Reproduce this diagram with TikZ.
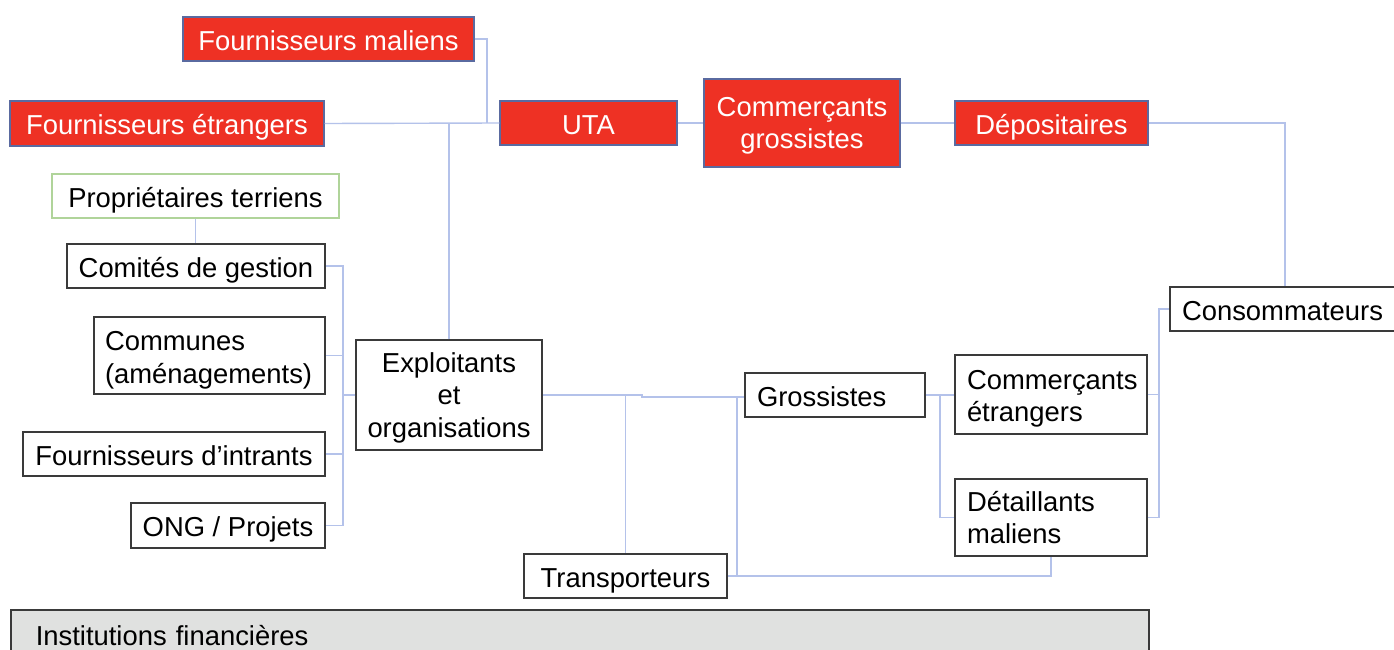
\documentclass[tikz,border=0pt]{standalone}
\usepackage{fontspec}
\setmainfont{Liberation Sans}
\definecolor{redfill}{HTML}{EE3124}
\definecolor{redline}{HTML}{5A6AA0}
\definecolor{boxline}{HTML}{3A3A3A}
\definecolor{conn}{HTML}{B4C2EA}
\definecolor{greenline}{HTML}{B0D49A}
\definecolor{grayfill}{HTML}{E0E1E0}
\tikzset{
  base/.style={rectangle, inner sep=0pt, font=\fontsize{27.4}{32.5}\selectfont, align=center},
  one/.style={text height=22.5pt, text depth=0pt},
  multi/.style={text depth=0pt},
  redbox/.style={base, draw=redline, line width=1.4pt, fill=redfill, text=white},
  whitebox/.style={base, draw=boxline, line width=1.5pt, fill=white, text=black},
  greenbox/.style={base, draw=greenline, line width=1.4pt, fill=white, text=black},
  conline/.style={draw=conn, line width=1.4pt},
}
\begin{document}
\begin{tikzpicture}[x=1pt,y=-1pt]
\useasboundingbox (0,0) rectangle (1394,650);
\clip (0,0) rectangle (1394,650);
\fill[white] (0,0) rectangle (1394,650);

\coordinate (j1) at (487,123);
\coordinate (lb) at (343,0);
\coordinate (tb) at (737,0);
\coordinate (gb) at (940,0);
\coordinate (rb) at (1159,0);

% nodes
\node[redbox, one, minimum width=291, minimum height=44] (fm) at (328.5,39) {Fournisseurs maliens};
\node[redbox, one, minimum width=314, minimum height=45] (fe) at (167,123.5) {Fournisseurs étrangers};
\node[redbox, one, minimum width=177, minimum height=44] (uta) at (588.5,123) {UTA};
\node[redbox, multi, minimum width=196, minimum height=88] (cg) at (802,123) {Commerçants\\grossistes};
\node[redbox, one, minimum width=193, minimum height=44] (dep) at (1051.5,123) {Dépositaires};
\node[greenbox, one, minimum width=287, minimum height=44] (pt) at (195.5,196) {Propriétaires terriens};
\node[whitebox, one, minimum width=258, minimum height=44] (cdg) at (196,266) {Comités de gestion};
\node[whitebox, text depth=28.5pt, minimum height=77, text width=209, inner xsep=11pt, align=left] (comm) at (209.5,355.5) {Communes\\(aménagements)};
\node[whitebox, one, minimum width=302, minimum height=44] (fi) at (174,454) {Fournisseurs d’intrants};
\node[whitebox, one, minimum width=194, minimum height=45] (ong) at (228,525.5) {ONG / Projets};
\node[whitebox, multi, minimum width=186, minimum height=110] (exp) at (449,395) {Exploitants\\et\\organisations};
\node[whitebox, one, minimum width=203, minimum height=44] (tr) at (625.5,576) {Transporteurs};
\node[whitebox, one, minimum height=44, text width=156, inner xsep=12pt, align=left] (gr) at (835,395) {Grossistes};
\node[whitebox, text depth=30pt, minimum height=79, text width=168, inner xsep=12pt, align=left] (ce) at (1051,394.5) {Commerçants\\étrangers};
\node[whitebox, minimum height=77, text width=168, inner xsep=12pt, align=left] (dm) at (1051,517.5) {Détaillants\\maliens};
\node[whitebox, one, minimum height=44, text width=206, inner xsep=12pt, align=left] (cons) at (1285,309) {Consommateurs};
\node[whitebox, one, fill=grayfill, minimum height=48, text width=1088, inner xsep=25pt, align=left, anchor=north west] (inst) at (10,609) {Institutions financières};

% connectors
\draw[conline] (fm.east) -| (j1);
\draw[conline] (fe.east) -- (uta.west);
\draw[conline] (exp.north) -- (exp.north |- fe.east);
\draw[conline] (uta.east) -- (cg.west |- uta.east);
\draw[conline] (cg.east |- dep.west) -- (dep.west);
\draw[conline] (dep.east) -| (cons.north);
\draw[conline] (pt.south) -- (pt.south |- cdg.north);
\draw[conline] (cdg.east) -- (cdg.east -| lb) -- (ong.east -| lb) -- (ong.east);
\draw[conline] (comm.east) -- (comm.east -| lb);
\draw[conline] (fi.east) -- (fi.east -| lb);
\draw[conline] (exp.west) -- (exp.west -| lb);
\draw[conline] (exp.east) -- (642,395) -- (642,397) -- (gr.west |- 0,397);
\draw[conline] (tr.north |- exp.east) -- (tr.north);
\draw[conline] (tb |- 0,397) -- (tb |- tr.east);
\draw[conline] (tr.east) -| (dm.south);
\draw[conline] (gr.east) -- (ce.west |- gr.east);
\draw[conline] (gb |- gr.east) |- (dm.west);
\draw[conline] (ce.east) -- (ce.east -| rb);
\draw[conline] (dm.east) -- (dm.east -| rb) |- (cons.west);
\end{tikzpicture}
\end{document}
